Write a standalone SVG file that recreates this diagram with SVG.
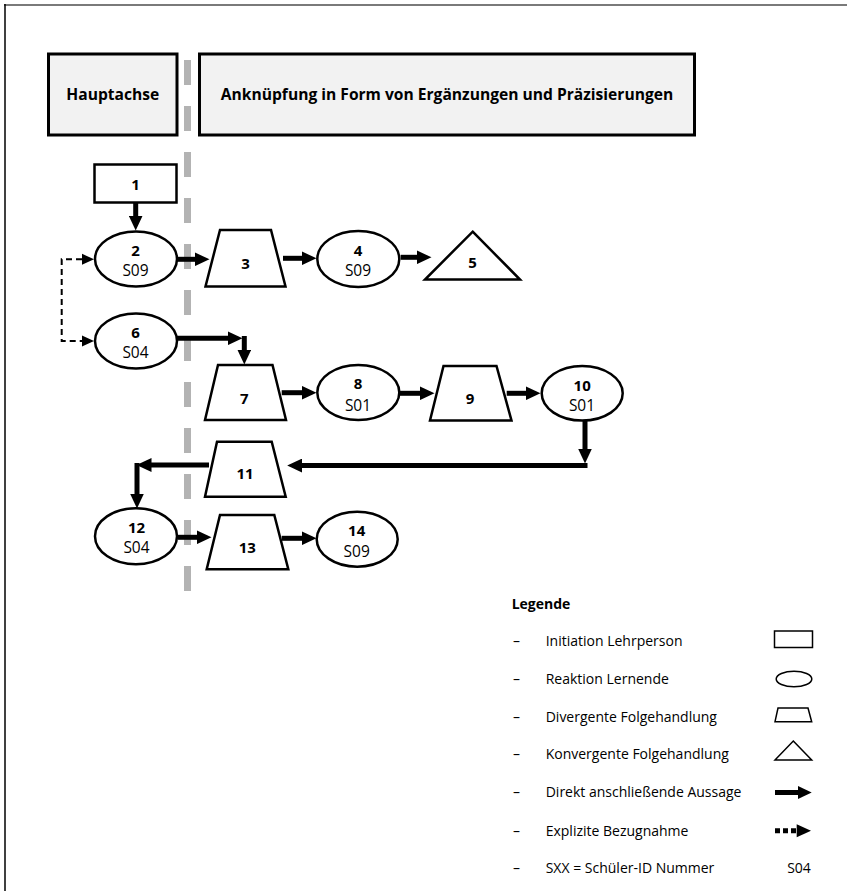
<svg xmlns="http://www.w3.org/2000/svg" width="847" height="891" viewBox="0 0 847 891">
  <style>
    .hdr { fill: #f2f2f2; stroke: #000; stroke-width: 3; }
    .hdrtxt { font-family: "Open Sans", "Noto Sans", sans-serif; font-weight: bold; font-size: 15.6px; text-anchor: middle; fill: #000; }
    .shape { fill: #fff; stroke: #000; stroke-width: 2.5; }
    .num { font-family: "Open Sans", "Noto Sans", sans-serif; font-weight: bold; font-size: 15px; text-anchor: middle; fill: #000; }
    .sid { font-family: "Open Sans", "Noto Sans", sans-serif; font-size: 15.5px; text-anchor: middle; fill: #000; }
    .flow { fill: none; stroke: #000; stroke-width: 5; }
    .ref { fill: none; stroke: #000; stroke-width: 2; stroke-dasharray: 6 4; }
    .head { fill: #000; }
    .axis { stroke: #b3b3b3; stroke-width: 7; stroke-dasharray: 25 21; }
    .leg { font-family: "Open Sans", "Noto Sans", sans-serif; font-size: 14px; fill: #000; }
    .legshape { fill: #fff; stroke: #000; stroke-width: 1.5; }
  </style>
  <defs>
    <marker id="arrow" viewBox="0 0 15 14" refX="0.5" refY="7" markerWidth="15" markerHeight="14" markerUnits="userSpaceOnUse" orient="auto">
      <path d="M0,0 L15,7 L0,14 Z" fill="#000"/>
    </marker>
  </defs>

  <rect width="847" height="891" fill="#fff"/>

  <!-- frame -->
  <line x1="4" y1="5" x2="847" y2="5" stroke="#7a7a7a" stroke-width="2"/>
  <line x1="5" y1="4" x2="5" y2="891" stroke="#000" stroke-width="1.5"/>

  <!-- column divider -->
  <line class="axis" x1="187.5" y1="60" x2="187.5" y2="592"/>

  <!-- column headings -->
  <g id="header-main">
    <rect class="hdr" x="48.5" y="54" width="128.5" height="81"/>
    <text class="hdrtxt" x="112.8" y="100">Hauptachse</text>
  </g>
  <g id="header-side">
    <rect class="hdr" x="199.5" y="54" width="495" height="81"/>
    <text class="hdrtxt" x="447" y="100">Anknüpfung in Form von Ergänzungen und Präzisierungen</text>
  </g>

  <!-- connectors -->
  <g id="connectors">
    <!-- explicit reference 6 -> 2 -->
    <path class="ref" d="M82,259.3 H61.7 V341 H82"/>
    <polygon class="head" points="82,253.8 94,259.3 82,264.8"/>
    <polygon class="head" points="82,335.5 94,341 82,346.5"/>

    <line class="flow" x1="135.7" y1="203" x2="135.7" y2="216" marker-end="url(#arrow)"/>
    <line class="flow" x1="177" y1="259.3" x2="195" y2="259.3" marker-end="url(#arrow)"/>
    <line class="flow" x1="283" y1="258.3" x2="302" y2="258.3" marker-end="url(#arrow)"/>
    <line class="flow" x1="400.7" y1="257.3" x2="417" y2="257.3" marker-end="url(#arrow)"/>

    <line class="flow" x1="177" y1="338.3" x2="228" y2="338.3" marker-end="url(#arrow)"/>
    <line class="flow" x1="244.3" y1="336" x2="244.3" y2="350" marker-end="url(#arrow)"/>

    <line class="flow" x1="281.7" y1="392.7" x2="302" y2="392.7" marker-end="url(#arrow)"/>
    <line class="flow" x1="400" y1="393.3" x2="420" y2="393.3" marker-end="url(#arrow)"/>
    <line class="flow" x1="506.7" y1="393.3" x2="526" y2="393.3" marker-end="url(#arrow)"/>

    <line class="flow" x1="585" y1="420.6" x2="585" y2="449" marker-end="url(#arrow)"/>
    <line class="flow" x1="587.5" y1="465.5" x2="301.7" y2="465.5" marker-end="url(#arrow)"/>

    <line class="flow" x1="209" y1="465" x2="151" y2="465" marker-end="url(#arrow)"/>
    <line class="flow" x1="137" y1="463" x2="137" y2="494" marker-end="url(#arrow)"/>

    <line class="flow" x1="177.7" y1="537.3" x2="197" y2="537.3" marker-end="url(#arrow)"/>
    <line class="flow" x1="281.7" y1="538.3" x2="302" y2="538.3" marker-end="url(#arrow)"/>
  </g>

  <!-- nodes -->
  <g id="n1">
    <rect class="shape" x="94.5" y="164.5" width="82" height="38" stroke-width="3"/>
    <text class="num" x="135.5" y="189.5">1</text>
  </g>
  <g id="n2">
    <ellipse class="shape" cx="136" cy="259" rx="41" ry="27.5"/>
    <text class="num" x="135.5" y="255.5">2</text>
    <text class="sid" x="135.5" y="276">S09</text>
  </g>
  <g id="n3">
    <polygon class="shape" points="220,230 271,230 285.5,286.5 205.5,286.5"/>
    <text class="num" x="245.5" y="268.5">3</text>
  </g>
  <g id="n4">
    <ellipse class="shape" cx="358.3" cy="259" rx="41" ry="28"/>
    <text class="num" x="358" y="255.5">4</text>
    <text class="sid" x="358" y="276">S09</text>
  </g>
  <g id="n5">
    <polygon class="shape" points="472.7,231.7 520,279.5 425,279.5"/>
    <text class="num" x="472.5" y="268" font-size="13">5</text>
  </g>
  <g id="n6">
    <ellipse class="shape" cx="136" cy="341" rx="41" ry="27.5"/>
    <text class="num" x="135.5" y="337.5">6</text>
    <text class="sid" x="135.5" y="358">S04</text>
  </g>
  <g id="n7">
    <polygon class="shape" points="218,365 272.5,365 286,420 205,420"/>
    <text class="num" x="244.3" y="404">7</text>
  </g>
  <g id="n8">
    <ellipse class="shape" cx="358.3" cy="392.5" rx="41" ry="27.5"/>
    <text class="num" x="358" y="389">8</text>
    <text class="sid" x="358" y="410.5">S01</text>
  </g>
  <g id="n9">
    <polygon class="shape" points="443.5,366 496.5,366 511.5,420.5 430,420.5"/>
    <text class="num" x="470" y="404">9</text>
  </g>
  <g id="n10">
    <ellipse class="shape" cx="582.2" cy="393.3" rx="40.5" ry="27.3"/>
    <text class="num" x="582.2" y="390.5">10</text>
    <text class="sid" x="582" y="410.5">S01</text>
  </g>
  <g id="n11">
    <polygon class="shape" points="217,441.7 271.7,441.7 285.7,496.7 205,496.7"/>
    <text class="num" x="245" y="479">11</text>
  </g>
  <g id="n12">
    <ellipse class="shape" cx="136" cy="536.2" rx="41" ry="28"/>
    <text class="num" x="136.5" y="532.5">12</text>
    <text class="sid" x="136.5" y="552.5">S04</text>
  </g>
  <g id="n13">
    <polygon class="shape" points="220,515 274.3,515 288.3,569.3 206.7,569.3"/>
    <text class="num" x="247.3" y="552.5">13</text>
  </g>
  <g id="n14">
    <ellipse class="shape" cx="357.2" cy="539.2" rx="40.5" ry="27.5"/>
    <text class="num" x="356.7" y="535.5">14</text>
    <text class="sid" x="356.7" y="556.5">S09</text>
  </g>

  <!-- legend -->
  <g id="legend">
    <text class="leg" x="511.7" y="608.5" font-weight="bold">Legende</text>

    <text class="leg" x="513" y="645.5">–</text>
    <text class="leg" x="545.7" y="645.5">Initiation Lehrperson</text>
    <rect class="legshape" x="774.5" y="631" width="38" height="16.5"/>

    <text class="leg" x="513" y="684">–</text>
    <text class="leg" x="545.7" y="684">Reaktion Lernende</text>
    <ellipse class="legshape" cx="794" cy="679" rx="17.8" ry="7.8"/>

    <text class="leg" x="513" y="721.5">–</text>
    <text class="leg" x="545.7" y="721.5">Divergente Folgehandlung</text>
    <polygon class="legshape" points="778,708 808,708 811.7,721.7 775,721.7"/>

    <text class="leg" x="513" y="759">–</text>
    <text class="leg" x="545.7" y="759">Konvergente Folgehandlung</text>
    <polygon class="legshape" points="793.3,741 811.7,760 775,760"/>

    <text class="leg" x="513" y="797">–</text>
    <text class="leg" x="545.7" y="797">Direkt anschließende Aussage</text>
    <line x1="775" y1="792.5" x2="799" y2="792.5" stroke="#000" stroke-width="5"/>
    <polygon class="head" points="798,786 811.7,792.5 798,799"/>

    <text class="leg" x="513" y="835.5">–</text>
    <text class="leg" x="545.7" y="835.5">Explizite Bezugnahme</text>
    <line x1="775" y1="830.7" x2="797" y2="830.7" stroke="#000" stroke-width="5" stroke-dasharray="5 3"/>
    <polygon class="head" points="796.7,824.2 811,830.7 796.7,837.2"/>

    <text class="leg" x="513" y="873">–</text>
    <text class="leg" x="545.7" y="873">SXX = Schüler-ID Nummer</text>
    <text class="leg" x="799" y="873" text-anchor="middle">S04</text>
  </g>
</svg>
